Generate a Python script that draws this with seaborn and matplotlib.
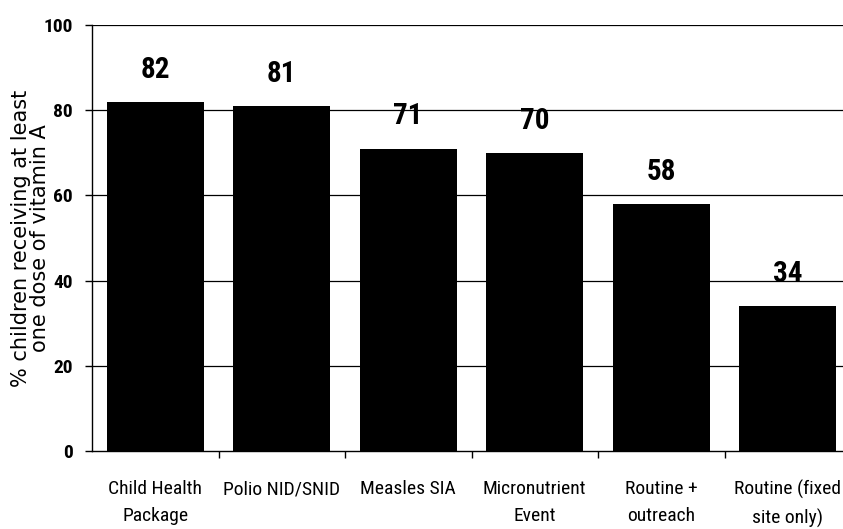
import matplotlib
matplotlib.use("Agg")
import matplotlib.pyplot as plt
import seaborn as sns
import pandas as pd
from matplotlib.ticker import FixedLocator

# Vitamin A coverage by delivery strategy
categories = [
    "Child Health\nPackage",
    "Polio NID/SNID",
    "Measles SIA",
    "Micronutrient\nEvent",
    "Routine +\noutreach",
    "Routine (fixed\nsite only)",
]
coverage = [82, 81, 71, 70, 58, 34]
y_ticks = [0, 20, 40, 60, 80, 100]
y_label = "% children receiving at least\none dose of vitamin A"

sns.set_theme(style="white")
plt.rcParams["font.family"] = ["Roboto Condensed", "DejaVu Sans"]
plt.rcParams["text.color"] = "black"
plt.rcParams["axes.labelcolor"] = "black"
plt.rcParams["xtick.color"] = "black"
plt.rcParams["ytick.color"] = "black"

df = pd.DataFrame({"strategy": categories, "coverage": coverage})

fig = plt.figure(figsize=(8.43, 5.29), dpi=100)
W, H = 843, 529
ax = fig.add_axes([92 / W, (H - 451) / H, 759 / W, 426 / H])

sns.barplot(data=df, x="strategy", y="coverage", color="black",
            saturation=1, width=0.77, edgecolor="none", ax=ax, zorder=3)

ax.set_xlim(-0.5, len(categories) - 0.5)
ax.set_ylim(0, 100)
ax.set_yticks(y_ticks)
ax.set_yticklabels([str(t) for t in y_ticks], fontsize=14, fontweight="bold")

# gridlines across the plot area, behind the bars
for t in y_ticks[1:]:
    ax.axhline(t, color="black", lw=0.9, zorder=1)

# category labels centered, tick marks at category boundaries
ax.set_xticks(range(len(categories)))
ax.set_xticklabels(categories, fontsize=14, linespacing=1.65)
ax.tick_params(axis="x", which="major", length=0, pad=21)
ax.xaxis.set_minor_locator(FixedLocator([i + 0.5 for i in range(len(categories))]))
ax.tick_params(axis="x", which="minor", bottom=True, length=5, width=1, color="black")
ax.tick_params(axis="y", left=True, length=5, width=1, color="black", pad=9)
ax.set_xlabel("")

for side in ["top", "right"]:
    ax.spines[side].set_visible(False)
for side in ["left", "bottom"]:
    ax.spines[side].set_color("black")
    ax.spines[side].set_linewidth(1)

ax.set_ylabel(y_label, fontsize=15, linespacing=0.95, family=["DejaVu Sans"])
ax.yaxis.set_label_coords(-0.055, 0.5)

for i, v in enumerate(coverage):
    ax.annotate(str(v), (i, v), xytext=(0, 13), textcoords="offset points",
                ha="center", va="bottom", fontsize=21, fontweight="bold",
                zorder=4)

fig.savefig("out.png", dpi=100, facecolor="white")
